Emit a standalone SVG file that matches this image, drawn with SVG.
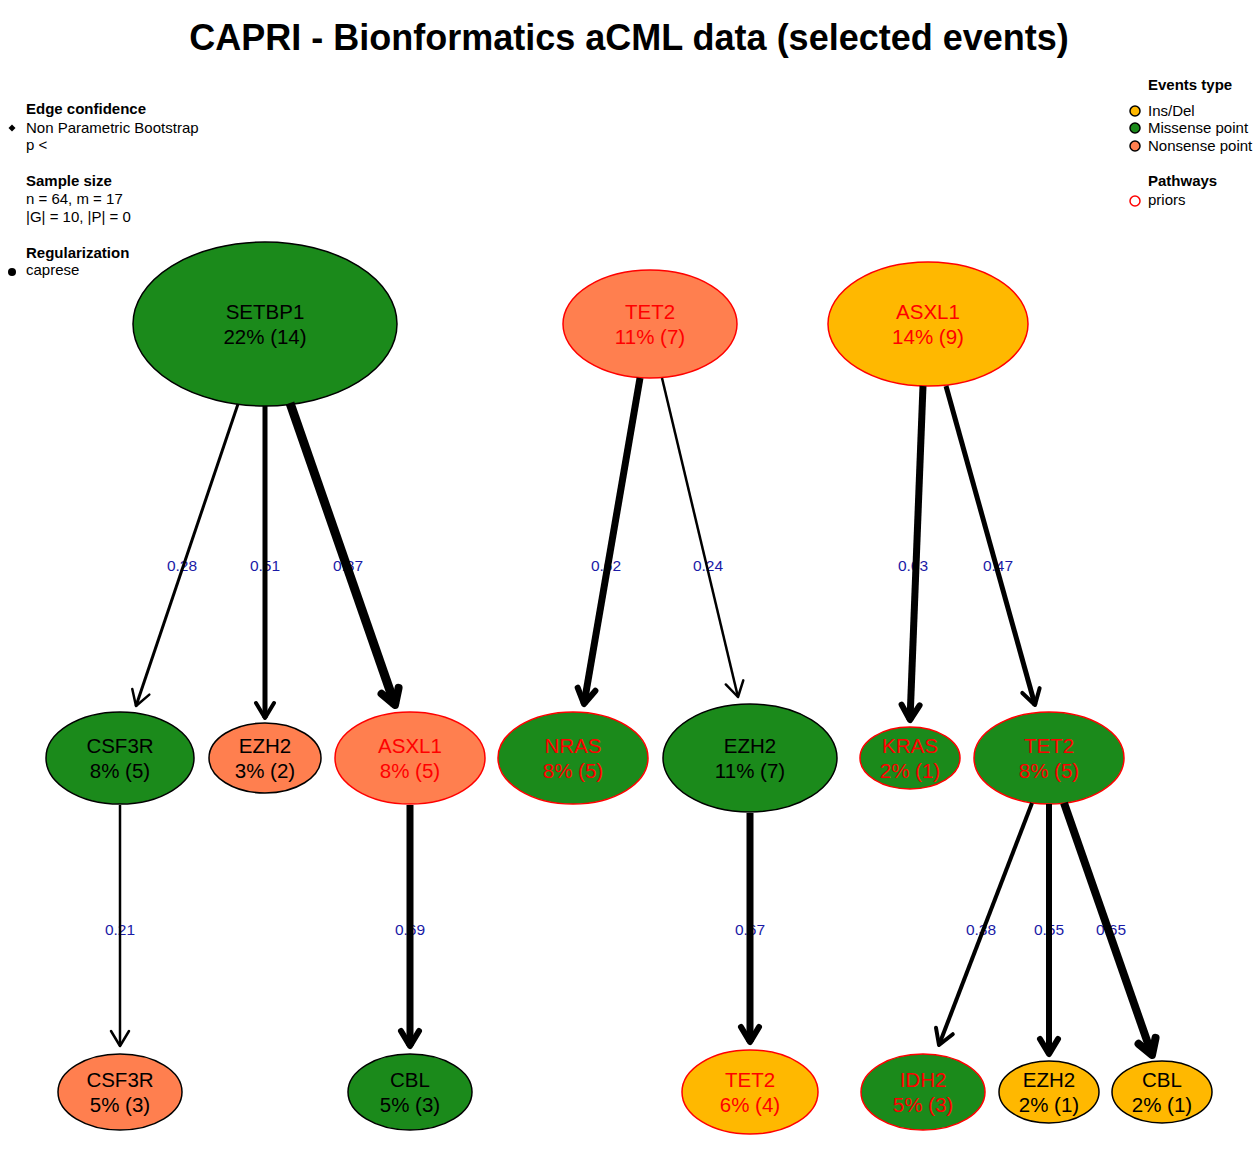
<svg xmlns="http://www.w3.org/2000/svg" width="1258" height="1156" viewBox="0 0 1258 1156">
<style>
.t{font-family:"Liberation Sans",Arial,sans-serif}
.title{font-size:36px;font-weight:bold;fill:#000}
.lh{font-size:15px;font-weight:bold;fill:#000}
.lt{font-size:15px;fill:#000}
.nt{font-size:20.5px;text-anchor:middle}
.blk{fill:#000}
.red{fill:#ff0000}
.el{font-size:15.5px;fill:#1a1aa6;text-anchor:middle}
.g{fill:#1b8a1b}
.o{fill:#ff7f4f}
.y{fill:#ffb800}
.sb{stroke:#000;stroke-width:1.5}
.sr{stroke:#ff0000;stroke-width:1.5}
.e{stroke:#000;fill:none}
</style>
<defs>
<marker id="a1" markerUnits="userSpaceOnUse" viewBox="-22 -16 26 32" markerWidth="26" markerHeight="32" refX="0" refY="0" orient="auto" overflow="visible"><path d="M-15,-9 L0,0 L-15,9" fill="none" stroke="#000" stroke-width="2.5" stroke-linecap="round" stroke-linejoin="round"/></marker>
<marker id="a2" markerUnits="userSpaceOnUse" viewBox="-22 -16 26 32" markerWidth="26" markerHeight="32" refX="0" refY="0" orient="auto" overflow="visible"><path d="M-15,-9 L0,0 L-15,9" fill="none" stroke="#000" stroke-width="4" stroke-linecap="round" stroke-linejoin="round"/></marker>
<marker id="a3" markerUnits="userSpaceOnUse" viewBox="-22 -16 26 32" markerWidth="26" markerHeight="32" refX="0" refY="0" orient="auto" overflow="visible"><path d="M-15,-9 L0,0 L-15,9" fill="none" stroke="#000" stroke-width="6" stroke-linecap="round" stroke-linejoin="round"/></marker>
<marker id="a4" markerUnits="userSpaceOnUse" viewBox="-22 -16 26 32" markerWidth="26" markerHeight="32" refX="0" refY="0" orient="auto" overflow="visible"><path d="M-15,-9 L0,0 L-15,9" fill="none" stroke="#000" stroke-width="8" stroke-linecap="round" stroke-linejoin="round"/></marker>
</defs>
<rect width="1258" height="1156" fill="#fff"/>
<text class="t title" x="629" y="50" text-anchor="middle">CAPRI - Bionformatics aCML data (selected events)</text>

<g id="legend-left">
<text class="t lh" x="26" y="114">Edge confidence</text>
<path d="M12,124.5 L15.5,128 L12,131.5 L8.5,128 Z" fill="#000"/>
<text class="t lt" x="26" y="133">Non Parametric Bootstrap</text>
<text class="t lt" x="26" y="150">p &lt;</text>
<text class="t lh" x="26" y="186">Sample size</text>
<text class="t lt" x="26" y="204">n = 64, m = 17</text>
<text class="t lt" x="26" y="222">|G| = 10, |P| = 0</text>
<text class="t lh" x="26" y="258">Regularization</text>
<circle cx="12" cy="272" r="4" fill="#000"/>
<text class="t lt" x="26" y="275">caprese</text>
</g>
<g id="legend-right">
<text class="t lh" x="1148" y="90">Events type</text>
<circle cx="1135" cy="111" r="5" class="y" stroke="#000" stroke-width="1.5"/>
<text class="t lt" x="1148" y="116">Ins/Del</text>
<circle cx="1135" cy="128" r="5" class="g" stroke="#000" stroke-width="1.5"/>
<text class="t lt" x="1148" y="133">Missense point</text>
<circle cx="1135" cy="146" r="5" class="o" stroke="#000" stroke-width="1.5"/>
<text class="t lt" x="1148" y="151">Nonsense point</text>
<text class="t lh" x="1148" y="186">Pathways</text>
<circle cx="1135" cy="201" r="5" fill="#fff" stroke="#ff0000" stroke-width="1.5"/>
<text class="t lt" x="1148" y="205">priors</text>
</g>

<g id="nodes">
<g id="n-setbp1"><ellipse cx="265" cy="324" rx="132" ry="82" class="g sb"/><text class="t nt blk" x="265" y="319">SETBP1</text><text class="t nt blk" x="265" y="344">22% (14)</text></g>
<g id="n-tet2-top"><ellipse cx="650" cy="324" rx="87" ry="54" class="o sr"/><text class="t nt red" x="650" y="319">TET2</text><text class="t nt red" x="650" y="344">11% (7)</text></g>
<g id="n-asxl1-top"><ellipse cx="928" cy="324" rx="100" ry="62" class="y sr"/><text class="t nt red" x="928" y="319">ASXL1</text><text class="t nt red" x="928" y="344">14% (9)</text></g>

<g id="n-csf3r-mid"><ellipse cx="120" cy="758" rx="74" ry="46" class="g sb"/><text class="t nt blk" x="120" y="753">CSF3R</text><text class="t nt blk" x="120" y="778">8% (5)</text></g>
<g id="n-ezh2-mid1"><ellipse cx="265" cy="758" rx="56" ry="35" class="o sb"/><text class="t nt blk" x="265" y="753">EZH2</text><text class="t nt blk" x="265" y="778">3% (2)</text></g>
<g id="n-asxl1-mid"><ellipse cx="410" cy="758" rx="75" ry="46" class="o sr"/><text class="t nt red" x="410" y="753">ASXL1</text><text class="t nt red" x="410" y="778">8% (5)</text></g>
<g id="n-nras"><ellipse cx="573" cy="758" rx="75" ry="46" class="g sr"/><text class="t nt red" x="573" y="753">NRAS</text><text class="t nt red" x="573" y="778">8% (5)</text></g>
<g id="n-ezh2-mid2"><ellipse cx="750" cy="758" rx="87" ry="54" class="g sb"/><text class="t nt blk" x="750" y="753">EZH2</text><text class="t nt blk" x="750" y="778">11% (7)</text></g>
<g id="n-kras"><ellipse cx="910" cy="758" rx="50" ry="31" class="g sr"/><text class="t nt red" x="910" y="753">KRAS</text><text class="t nt red" x="910" y="778">2% (1)</text></g>
<g id="n-tet2-mid"><ellipse cx="1049" cy="758" rx="75" ry="46" class="g sr"/><text class="t nt red" x="1049" y="753">TET2</text><text class="t nt red" x="1049" y="778">8% (5)</text></g>

<g id="n-csf3r-bot"><ellipse cx="120" cy="1092" rx="62" ry="38" class="o sb"/><text class="t nt blk" x="120" y="1087">CSF3R</text><text class="t nt blk" x="120" y="1112">5% (3)</text></g>
<g id="n-cbl-bot1"><ellipse cx="410" cy="1092" rx="62" ry="38" class="g sb"/><text class="t nt blk" x="410" y="1087">CBL</text><text class="t nt blk" x="410" y="1112">5% (3)</text></g>
<g id="n-tet2-bot"><ellipse cx="750" cy="1092" rx="68" ry="42" class="y sr"/><text class="t nt red" x="750" y="1087">TET2</text><text class="t nt red" x="750" y="1112">6% (4)</text></g>
<g id="n-idh2"><ellipse cx="923" cy="1092" rx="62" ry="38" class="g sr"/><text class="t nt red" x="923" y="1087">IDH2</text><text class="t nt red" x="923" y="1112">5% (3)</text></g>
<g id="n-ezh2-bot"><ellipse cx="1049" cy="1092" rx="50" ry="31" class="y sb"/><text class="t nt blk" x="1049" y="1087">EZH2</text><text class="t nt blk" x="1049" y="1112">2% (1)</text></g>
<g id="n-cbl-bot2"><ellipse cx="1162" cy="1092" rx="50" ry="31" class="y sb"/><text class="t nt blk" x="1162" y="1087">CBL</text><text class="t nt blk" x="1162" y="1112">2% (1)</text></g>
</g>

<g id="connectors">
<g id="edge-labels">
<text class="t el" x="182" y="571">0.28</text>
<text class="t el" x="265" y="571">0.51</text>
<text class="t el" x="348" y="571">0.87</text>
<text class="t el" x="606" y="571">0.62</text>
<text class="t el" x="708" y="571">0.24</text>
<text class="t el" x="913" y="571">0.63</text>
<text class="t el" x="998" y="571">0.47</text>
<text class="t el" x="120" y="935">0.21</text>
<text class="t el" x="410" y="935">0.69</text>
<text class="t el" x="750" y="935">0.67</text>
<text class="t el" x="981" y="935">0.38</text>
<text class="t el" x="1049" y="935">0.55</text>
<text class="t el" x="1111" y="935">0.65</text>
</g>
<line class="e" x1="238" y1="404" x2="136" y2="706" stroke-width="3" marker-end="url(#a1)"/>
<line class="e" x1="265" y1="406" x2="265" y2="718" stroke-width="5" marker-end="url(#a2)"/>
<line class="e" x1="290" y1="403" x2="395" y2="705" stroke-width="9" marker-end="url(#a4)"/>
<line class="e" x1="640" y1="378" x2="584" y2="704" stroke-width="7" marker-end="url(#a3)"/>
<line class="e" x1="662" y1="378" x2="738" y2="697" stroke-width="2.5" marker-end="url(#a1)"/>
<line class="e" x1="923" y1="386" x2="910" y2="720" stroke-width="7" marker-end="url(#a3)"/>
<line class="e" x1="946" y1="386" x2="1035" y2="705" stroke-width="5" marker-end="url(#a2)"/>
<line class="e" x1="120" y1="805" x2="120" y2="1046" stroke-width="2.5" marker-end="url(#a1)"/>
<line class="e" x1="410" y1="805" x2="410" y2="1046" stroke-width="7" marker-end="url(#a3)"/>
<line class="e" x1="750" y1="813" x2="750" y2="1042" stroke-width="7" marker-end="url(#a3)"/>
<line class="e" x1="1032" y1="803" x2="939" y2="1045" stroke-width="4" marker-end="url(#a2)"/>
<line class="e" x1="1049" y1="804" x2="1049" y2="1054" stroke-width="6" marker-end="url(#a3)"/>
<line class="e" x1="1064" y1="803" x2="1152" y2="1055" stroke-width="8" marker-end="url(#a4)"/>
</g>
</svg>
